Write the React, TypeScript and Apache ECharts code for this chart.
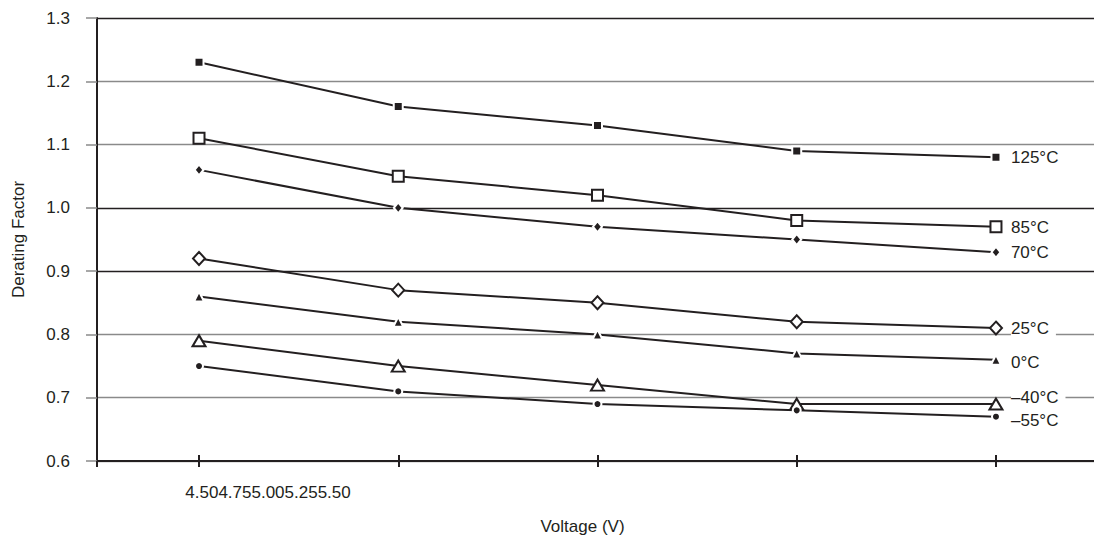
import React, { useEffect, useRef } from "react";
import * as echarts from "echarts";

// ---- data ----
const voltages = [4.5, 4.75, 5.0, 5.25, 5.5];
const xTickLabels = ["4.50", "4.75", "5.00", "5.25", "5.50"];
const seriesNames = ["125°C", "85°C", "70°C", "25°C", "0°C", "–40°C", "–55°C"];
const t125 = [1.23, 1.16, 1.13, 1.09, 1.08];
const t85 = [1.11, 1.05, 1.02, 0.98, 0.97];
const t70 = [1.06, 1.0, 0.97, 0.95, 0.93];
const t25 = [0.92, 0.87, 0.85, 0.82, 0.81];
const t0 = [0.86, 0.82, 0.8, 0.77, 0.76];
const tm40 = [0.79, 0.75, 0.72, 0.69, 0.69];
const tm55 = [0.75, 0.71, 0.69, 0.68, 0.67];
const seriesValues = [t125, t85, t70, t25, t0, tm40, tm55];

const xMin = 4.372;
const xMax = 5.623;
const yMin = 0.6;
const yMax = 1.3;
const yStep = 0.1;

const INK = "#231f20";
const GRID_GRAY = "#8a8a8a";
const FONT = "'Liberation Sans', Arial, Helvetica, sans-serif";

// marker styles (per series, same order)
const markerStyles = [
  { symbol: "rect", size: [9, 9], open: false, dy: 0 },
  { symbol: "rect", size: [11, 11], open: true, dy: 1 },
  { symbol: "diamond", size: [9, 11], open: false, dy: 0 },
  { symbol: "diamond", size: [12, 13], open: true, dy: 0 },
  { symbol: "triangle", size: [10, 10], open: false, dy: 3 },
  { symbol: "triangle", size: [13, 11], open: true, dy: -7 },
  { symbol: "circle", size: [8, 8], open: false, dy: 4 },
];

export default function App() {
  const ref = useRef<HTMLDivElement>(null);

  useEffect(() => {
    document.body.style.margin = "0";
    if (!ref.current) return;
    const chart = echarts.init(ref.current, undefined, { renderer: "svg" });

    const series = seriesNames.map((name, si) => {
      const m = markerStyles[si];
      const vals = seriesValues[si];
      return {
        name,
        type: "line",
        xAxisIndex: 0,
        data: vals.map((v, i) => ({
          value: [voltages[i], v],
          label:
            i === vals.length - 1
              ? {
                  show: true,
                  position: "right",
                  distance: 14 - m.size[0] / 2,
                  offset: [0, m.dy],
                  formatter: name,
                  fontSize: 17,
                  color: INK,
                  fontFamily: FONT,
                  backgroundColor: "#ffffff",
                  padding: [0, 7, 0, 0],
                }
              : { show: false },
        })),
        symbol: m.symbol,
        symbolSize: m.size,
        showAllSymbol: true,
        lineStyle: { color: INK, width: 2 },
        itemStyle: m.open
          ? { color: "#ffffff", borderColor: INK, borderWidth: 2 }
          : { color: INK, borderColor: "#ffffff", borderWidth: 2 },
        emphasis: { disabled: true },
        z: 3,
      };
    });

    chart.setOption({
      animation: false,
      textStyle: { fontFamily: FONT, color: INK },
      grid: { left: 97, right: 0, top: 18, bottom: 76, containLabel: false, outerBoundsMode: "none" },
      xAxis: [
        {
          type: "value",
          min: xMin,
          max: xMax,
          position: "bottom",
          axisLine: { show: true, lineStyle: { color: INK, width: 2 } },
          axisTick: {
            show: true,
            inside: false,
            length: 6,
            lineStyle: { color: INK, width: 2 },
            customValues: [xMin, ...voltages],
          },
          axisLabel: {
            show: true,
            customValues: [voltages[0]],
            formatter: () => xTickLabels.join(""),
            margin: 23,
            fontSize: 17,
            color: INK,
            fontFamily: FONT,
            align: "center",
            padding: [0, 0, 0, 138],
          },
          splitLine: { show: false },
          name: "Voltage (V)",
          nameLocation: "middle",
          nameGap: 57,
          nameTextStyle: { fontSize: 17, color: INK, fontFamily: FONT, padding: [0, 26, 0, 0] },
        },
        {
          type: "value",
          min: xMin,
          max: xMax,
          position: "bottom",
          axisLine: { show: false },
          axisTick: {
            show: true,
            inside: true,
            length: 6,
            lineStyle: { color: INK, width: 2 },
            customValues: voltages,
          },
          axisLabel: { show: false },
          splitLine: { show: false },
        },
      ],
      yAxis: {
        type: "value",
        min: yMin,
        max: yMax,
        interval: yStep,
        axisLine: { show: true, lineStyle: { color: INK, width: 2 } },
        axisTick: { show: true, length: 11, lineStyle: { color: GRID_GRAY, width: 1.5 } },
        axisLabel: {
          formatter: (v: number) => v.toFixed(1),
          margin: 27,
          fontSize: 17,
          color: INK,
          fontFamily: FONT,
        },
        splitLine: {
          show: true,
          lineStyle: {
            color: [GRID_GRAY, GRID_GRAY, GRID_GRAY, INK, INK, GRID_GRAY, GRID_GRAY, INK],
            width: 1.3,
          },
        },
        name: "Derating Factor",
        nameLocation: "middle",
        nameGap: 70,
        nameTextStyle: { fontSize: 17, color: INK, fontFamily: FONT },
      },
      series,
    });

    return () => chart.dispose();
  }, []);

  return <div ref={ref} style={{ width: 1094, height: 537 }} />;
}
